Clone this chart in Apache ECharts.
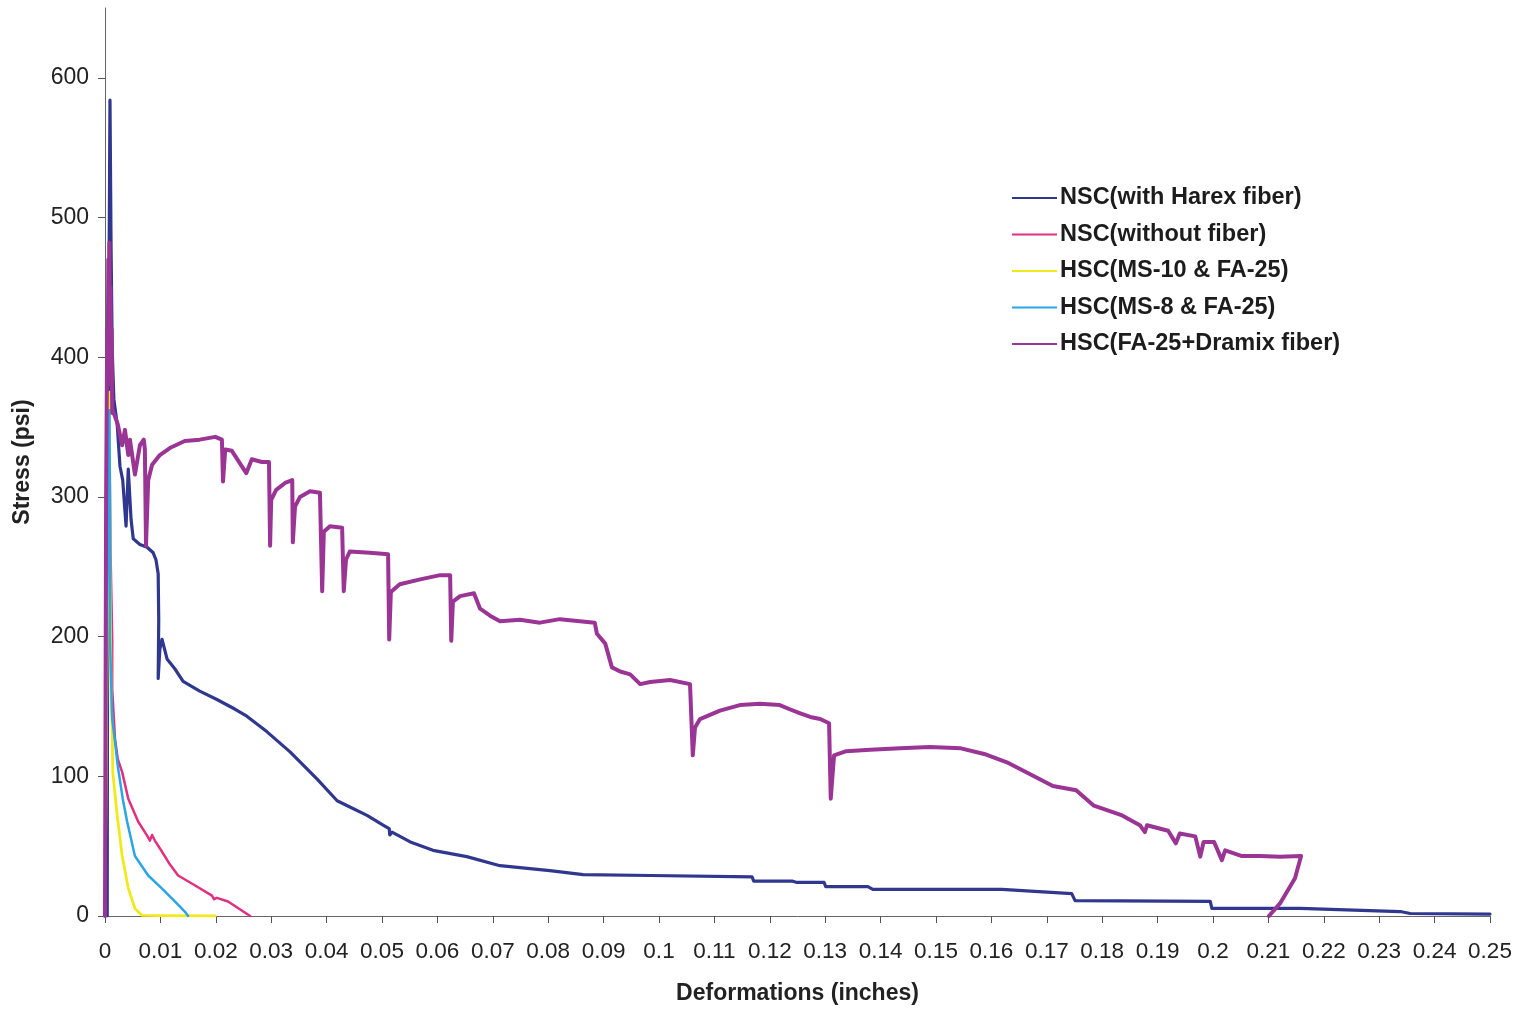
<!DOCTYPE html>
<html>
<head>
<meta charset="utf-8">
<title>Stress vs Deformation</title>
<script src="https://cdn.jsdelivr.net/npm/echarts@6/dist/echarts.min.js"></script>
<style>
  html, body { margin: 0; padding: 0; background: #ffffff; }
  #chart { width: 1530px; height: 1010px; }
</style>
</head>
<body>
<div id="chart"></div>
<script>
// Stress (psi) against deformation (inches) for five concrete mixes.
const seriesNames = [
  'NSC(with Harex fiber)',
  'NSC(without fiber)',
  'HSC(MS-10 & FA-25)',
  'HSC(MS-8 & FA-25)',
  'HSC(FA-25+Dramix fiber)'
];

const yTickValues = [0, 100, 200, 300, 400, 500, 600];

// [deformation, stress]
const nscHarex = [
  [0.0004, 0], [0.0005, 298], [0.0009, 584], [0.0011, 477], [0.0013, 405],
  [0.0016, 370], [0.0022, 352], [0.0027, 322], [0.0032, 312], [0.0038, 279],
  [0.0042, 320], [0.0047, 284], [0.0051, 270], [0.0063, 266], [0.0076, 264],
  [0.0087, 260], [0.0092, 255], [0.0096, 245], [0.0097, 212], [0.0096, 170],
  [0.0099, 191], [0.0103, 198], [0.0112, 184], [0.0126, 177], [0.0141, 168],
  [0.0171, 161], [0.0202, 155], [0.0235, 148], [0.0256, 143], [0.0292, 132],
  [0.0334, 117.5], [0.0383, 98], [0.0419, 82.5], [0.0442, 78], [0.0473, 72],
  [0.0502, 65], [0.0513, 62.5], [0.0514, 58], [0.0518, 60], [0.0551, 53],
  [0.0592, 47], [0.0653, 42.5], [0.0713, 36], [0.0803, 32.5], [0.0863, 29.6],
  [0.0984, 29], [0.1168, 28], [0.1171, 25], [0.1240, 25], [0.1249, 24],
  [0.1298, 24], [0.1301, 21], [0.1377, 21], [0.1386, 19], [0.1619, 19],
  [0.1745, 16], [0.1751, 11], [0.1995, 10.4], [0.1998, 5.4], [0.2157, 5.4],
  [0.2338, 3.2], [0.2356, 1.8], [0.2500, 1.4]
];

const nscPlain = [
  [0, 0], [0.0004, 200], [0.0008, 350], [0.0010, 260], [0.0013, 198],
  [0.0013, 162.5], [0.0018, 127], [0.0023, 112.5], [0.0031, 103], [0.0042, 84],
  [0.0060, 67.5], [0.0076, 57.5], [0.0081, 54], [0.0085, 58], [0.0090, 54],
  [0.0103, 46], [0.0117, 37], [0.0132, 29], [0.0162, 22], [0.0193, 14.6],
  [0.0197, 12], [0.0202, 13], [0.0222, 10.4], [0.0262, 0]
];

const hscMs10 = [
  [0, 0], [0.0005, 250], [0.0008, 375], [0.0009, 250], [0.0011, 160],
  [0.0013, 132], [0.0014, 103], [0.0022, 72], [0.0031, 43], [0.0042, 20],
  [0.0054, 5.4], [0.0067, 0.4], [0.0100, 0.3], [0.0199, 0]
];

const hscMs8 = [
  [0, 0], [0.0003, 200], [0.0008, 362], [0.0009, 280], [0.0009, 198],
  [0.0013, 141], [0.0018, 125], [0.0023, 107.5], [0.0032, 84], [0.0040, 67.5],
  [0.0054, 43], [0.0078, 29], [0.0103, 19.6], [0.0126, 10.4], [0.0144, 3.2],
  [0.0150, 0]
];

const hscDramix = [
  [0, 0], [0.0002, 300], [0.0004, 420], [0.0005, 400], [0.0006, 470],
  [0.0007, 430], [0.0008, 482], [0.0009, 410], [0.0010, 450], [0.0011, 380],
  [0.0012, 420], [0.0013, 360], [0.0014, 362], [0.0023, 352], [0.0031, 337],
  [0.0036, 348], [0.0042, 330], [0.0045, 341], [0.0054, 316], [0.0063, 337],
  [0.0070, 341], [0.0072, 334], [0.0074, 265], [0.0078, 312], [0.0085, 323],
  [0.0099, 330], [0.0117, 335], [0.0144, 340], [0.0171, 341], [0.0199, 343],
  [0.0211, 341], [0.0213, 311], [0.0217, 334], [0.0229, 333], [0.0255, 317],
  [0.0265, 327], [0.0283, 325], [0.0296, 325], [0.0298, 265], [0.0300, 298],
  [0.0309, 305], [0.0325, 310], [0.0338, 312], [0.0339, 267.5], [0.0343, 293],
  [0.0352, 300], [0.0370, 304], [0.0388, 303], [0.0392, 232.5], [0.0395, 275],
  [0.0406, 279], [0.0428, 278], [0.0431, 232.5], [0.0435, 255], [0.0442, 261],
  [0.0478, 260], [0.0511, 259], [0.0513, 198], [0.0516, 232], [0.0532, 237.5],
  [0.0569, 241], [0.0605, 244], [0.0623, 244], [0.0625, 197], [0.0628, 225],
  [0.0641, 229], [0.0666, 231], [0.0677, 220], [0.0695, 215], [0.0713, 211],
  [0.0749, 212], [0.0785, 210], [0.0821, 212.5], [0.0857, 211], [0.0884, 210],
  [0.0888, 202], [0.0903, 195], [0.0915, 178], [0.0930, 175], [0.0948, 173],
  [0.0966, 166], [0.0984, 167.5], [0.1020, 169], [0.1056, 166], [0.1059, 165],
  [0.1061, 115], [0.1065, 135], [0.1074, 141], [0.1110, 147], [0.1146, 151],
  [0.1182, 152], [0.1218, 151], [0.1236, 148], [0.1255, 145], [0.1273, 142.5],
  [0.1291, 141], [0.1307, 138], [0.1310, 84], [0.1316, 115], [0.1338, 118],
  [0.1381, 119], [0.1435, 120], [0.1489, 121], [0.1545, 120], [0.1587, 116],
  [0.1628, 110], [0.1677, 100], [0.1711, 93], [0.1753, 90], [0.1785, 79],
  [0.1836, 72], [0.1868, 65], [0.1877, 60], [0.1881, 65], [0.1919, 61],
  [0.1933, 52], [0.1940, 59], [0.1968, 57], [0.1977, 42.5], [0.1983, 53],
  [0.2002, 53], [0.2016, 40], [0.2022, 47], [0.2051, 43], [0.2085, 43],
  [0.2121, 42.5], [0.2159, 43], [0.2148, 27], [0.2121, 9], [0.2101, 0]
];

const seriesData = [nscHarex, nscPlain, hscMs10, hscMs8, hscDramix];
const seriesColors = ['#30378f', '#e0307f', '#f2e91c', '#2aa5e6', '#9b3595'];
const seriesWidths = [3.2, 2.5, 2.8, 2.5, 4];

const FONT = '"Liberation Sans", Arial, sans-serif';

const chart = echarts.init(document.getElementById('chart'), null, { renderer: 'canvas' });

chart.setOption({
  animation: false,
  backgroundColor: '#ffffff',
  grid: { left: 105, right: 40, top: 8, bottom: 92.5, containLabel: false },
  legend: {
    orient: 'vertical',
    left: 1007,
    top: 180,
    itemWidth: 45,
    itemHeight: 14,
    itemGap: 10.5,
    itemStyle: { borderWidth: 0 },
    textStyle: {
      fontFamily: FONT,
      fontWeight: 'bold',
      fontSize: 23.5,
      lineHeight: 26,
      color: '#1c1c1c',
      padding: [0, 0, 0, -2]
    },
    data: seriesNames.map((n, i) => ({
      name: n,
      icon: 'path://M0,6 L45,6 L45,8 L0,8 Z',
      itemStyle: { color: seriesColors[i] }
    }))
  },
  xAxis: {
    type: 'value',
    min: 0,
    max: 0.25,
    interval: 0.01,
    name: 'Deformations (inches)',
    nameLocation: 'middle',
    nameGap: 66,
    nameTextStyle: { fontFamily: FONT, fontWeight: 'bold', fontSize: 23, color: '#222' },
    splitLine: { show: false },
    axisLine: { show: true, onZero: false, lineStyle: { color: '#666', width: 1 } },
    axisTick: { show: true, inside: false, length: 7, lineStyle: { color: '#555' } },
    axisLabel: {
      interval: 0,
      margin: 24,
      fontFamily: FONT,
      fontSize: 22.5,
      color: '#222',
      formatter: v => String(+v.toFixed(2))
    }
  },
  yAxis: {
    type: 'value',
    min: 0,
    max: 650,
    name: 'Stress (psi)',
    nameLocation: 'middle',
    nameGap: 71,
    nameRotate: 90,
    nameTextStyle: { fontFamily: FONT, fontWeight: 'bold', fontSize: 23, color: '#222' },
    splitLine: { show: false },
    axisLine: { show: true, lineStyle: { color: '#666', width: 1 } },
    axisTick: { show: true, inside: false, length: 7, customValues: yTickValues, lineStyle: { color: '#555' } },
    axisLabel: {
      margin: 16,
      fontFamily: FONT,
      fontSize: 23,
      color: '#222',
      customValues: yTickValues
    }
  },
  series: seriesNames.map((name, i) => ({
    name: name,
    type: 'line',
    data: seriesData[i],
    symbol: 'none',
    showSymbol: false,
    sampling: null,
    clip: true,
    z: 2 + (i === 4 ? 1 : 0),
    itemStyle: { color: seriesColors[i] },
    lineStyle: { color: seriesColors[i], width: seriesWidths[i], join: 'round', cap: 'round' }
  }))
});
</script>
</body>
</html>
